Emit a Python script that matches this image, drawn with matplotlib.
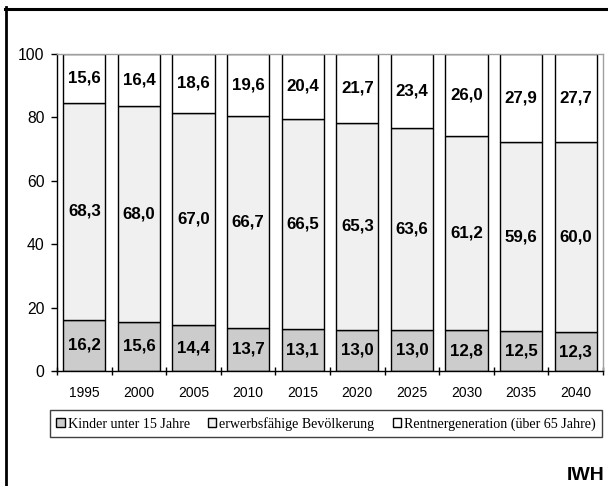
import matplotlib
matplotlib.use("Agg")
import matplotlib.pyplot as plt
from matplotlib.lines import Line2D
import numpy as np

# Altersstruktur der Bevölkerung in Prozent
years = ["1995", "2000", "2005", "2010", "2015", "2020", "2025", "2030", "2035", "2040"]
kinder = [16.2, 15.6, 14.4, 13.7, 13.1, 13.0, 13.0, 12.8, 12.5, 12.3]
erwerbsfaehige = [68.3, 68.0, 67.0, 66.7, 66.5, 65.3, 63.6, 61.2, 59.6, 60.0]
rentner = [15.6, 16.4, 18.6, 19.6, 20.4, 21.7, 23.4, 26.0, 27.9, 27.7]

series_names = [
    "Kinder unter 15 Jahre",
    "erwerbsfähige Bevölkerung",
    "Rentnergeneration (über 65 Jahre)",
]
series_colors = ["#cccccc", "#f0f0f0", "#ffffff"]

W, H = 608, 486
fig = plt.figure(figsize=(W / 100, H / 100), dpi=100)
fig.patch.set_facecolor("white")

ax = fig.add_axes([57 / W, 1 - 371 / H, (603 - 57) / W, (371 - 54) / H])

x = np.arange(len(years))
bottom = np.zeros(len(years))
for vals, name, color in zip([kinder, erwerbsfaehige, rentner], series_names, series_colors):
    vals = np.array(vals)
    ax.bar(x, vals, width=0.77, bottom=bottom, color=color, edgecolor="black",
           linewidth=1.0, label=name)
    for xi, b, v in zip(x, bottom, vals):
        ax.text(xi, b + v / 2, f"{v:.1f}".replace(".", ","), ha="center", va="center",
                fontsize=12.2, fontweight="bold", family="Liberation Sans")
    bottom += vals

ax.set_xlim(-0.5, len(years) - 0.5)
ax.set_ylim(0, 100)

# category boundaries get tick marks, labels sit in the middle
ax.set_xticks(np.arange(-0.5, len(years), 1.0))
ax.set_xticklabels([])
ax.set_xticks(x, minor=True)
ax.set_xticklabels(years, minor=True, fontsize=10, family="Liberation Sans")
ax.tick_params(axis="x", which="major", direction="inout", length=6, width=1)
ax.tick_params(axis="x", which="minor", length=0, pad=11)

ax.set_yticks([0, 20, 40, 60, 80, 100])
ax.set_yticklabels(["0", "20", "40", "60", "80", "100"], fontsize=11.3,
                   family="Liberation Sans")
ax.tick_params(axis="y", direction="out", length=4, width=1, pad=5)

for side in ["left", "bottom"]:
    ax.spines[side].set_color("black")
    ax.spines[side].set_linewidth(1.0)
for side in ["top", "right"]:
    ax.spines[side].set_color("#a0a0a0")
    ax.spines[side].set_linewidth(1.0)

leg = fig.legend(loc="lower left", ncol=3, mode="expand",
                 bbox_to_anchor=(50 / W, 1 - 437 / H, (602 - 50) / W, (437 - 407) / H),
                 prop={"family": "Liberation Serif", "size": 10.1},
                 handlelength=0.6, handleheight=0.6, handletextpad=0.2,
                 borderpad=0.45, borderaxespad=0, fancybox=False, framealpha=1)
leg.get_frame().set_edgecolor("#404040")
leg.get_frame().set_linewidth(1.0)

fig.text(605 / W, 1 - 475 / H, "IWH", ha="right", va="center", fontsize=14,
         fontweight="bold", family="Liberation Sans")

# frame on top and left
fig.add_artist(Line2D([5 / W, 1.0], [1 - 8.7 / H, 1 - 8.7 / H], color="black",
                      linewidth=2.2, transform=fig.transFigure))
fig.add_artist(Line2D([6 / W, 6 / W], [0.0, 1 - 7.5 / H], color="black",
                      linewidth=2.0, transform=fig.transFigure))

fig.savefig("out.png", dpi=100)
